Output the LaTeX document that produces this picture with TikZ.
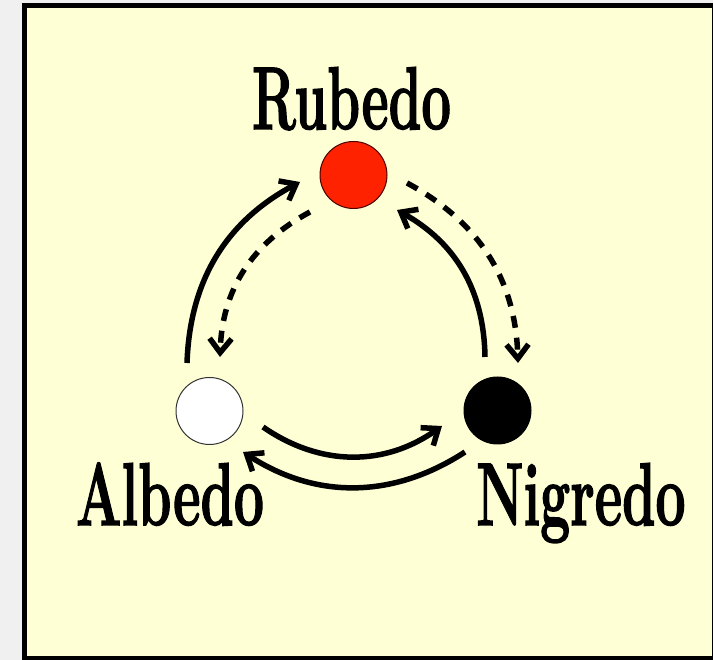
\documentclass[tikz,border=0pt]{standalone}
\usepackage{fontspec}
\newfontfamily\heavyface[FakeBold=1.8]{Latin Modern Roman}
\usetikzlibrary{arrows.meta}
\definecolor{bgyellow}{RGB}{255,255,213}
\definecolor{pagegrey}{RGB}{240,240,240}
\definecolor{rubred}{RGB}{255,34,0}
\begin{document}
\begin{tikzpicture}[x=1pt,y=1pt,
  stone/.style={circle,minimum size=67pt,inner sep=0pt,line width=1pt},
  wordstyle/.style={anchor=base,inner sep=0pt,font=\heavyface\bfseries\fontsize{89}{89}\selectfont},
  solidflow/.style={line width=5.5pt,-{Straight Barb[length=14pt,width=22pt]}},
  dashedflow/.style={solidflow,dash pattern=on 12pt off 10pt}]
\useasboundingbox (0,0) rectangle (713,660);
\fill[pagegrey] (0,0) rectangle (713,660);
\draw[line width=5pt,fill=bgyellow] (24.5,1) rectangle (714,654.5);
% stones
\node[stone,fill=rubred,draw=black!70!red] (r) at (353.5,485) {};
\node[stone,fill=white,draw=black!80] (w) at (209.5,249) {};
\node[stone,fill=black,draw=black] (n) at (497.5,249.5) {};
% names
\node[wordstyle] (tr) at (351.5,531) {\scalebox{0.59}[1]{Rubedo}};
\node[wordstyle] (ta) at (170,135) {\scalebox{0.6}[1]{Albedo}};
\node[wordstyle] (tn) at (581,135) {\scalebox{0.6}[1]{Nigredo}};
% arc end points
\coordinate (a1s) at (187,297);
\coordinate (a1e) at (300,478);
\coordinate (a2s) at (310,448);
\coordinate (a2e) at (220,303);
\coordinate (a3s) at (407,477);
\coordinate (a3e) at (518,297);
\coordinate (a4s) at (485,303);
\coordinate (a4e) at (397,450);
\coordinate (a5s) at (263,233);
\coordinate (a5e) at (442,234);
\coordinate (a6s) at (465,208);
\coordinate (a6e) at (243,208);
% arcs
\draw[solidflow] (a1s) to[bend left=30] (a1e);
\draw[dashedflow] (a2s) to[bend right=30] (a2e);
\draw[dashedflow] (a3s) to[bend left=30] (a3e);
\draw[solidflow] (a4s) to[bend right=30] (a4e);
\draw[solidflow] (a5s) to[bend right=35] (a5e);
\draw[solidflow] (a6s) to[bend left=33] (a6e);
\end{tikzpicture}
\end{document}
